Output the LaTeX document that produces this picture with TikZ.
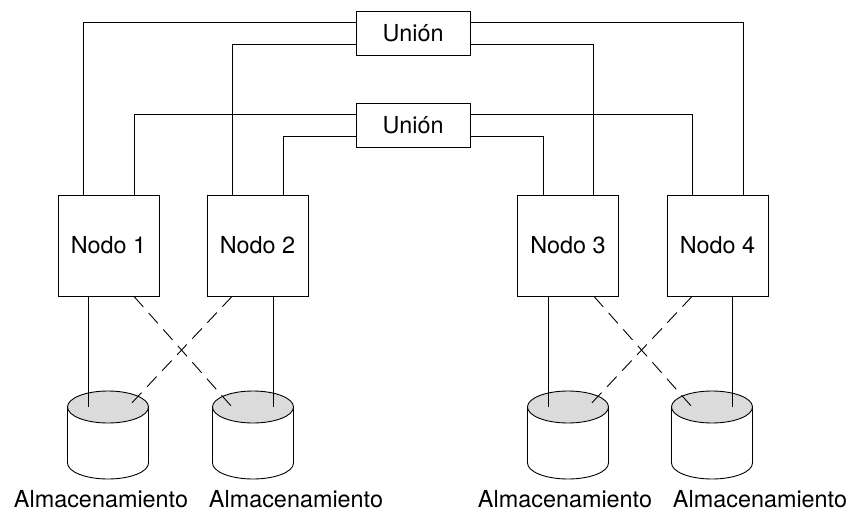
\documentclass[tikz,border=0pt]{standalone}
\usepackage{fontspec}
\setmainfont{TeX Gyre Heros}
\definecolor{diskgray}{gray}{0.86}
\begin{document}
\begin{tikzpicture}[x=1pt,y=-1pt,
  every node/.style={font=\fontsize{23.4}{28}\selectfont},
  box/.style={draw,line width=0.9pt,inner sep=0pt,text height=16.8pt,text depth=0pt},
  nodebox/.style={box,minimum width=101pt,minimum height=101pt},
  joinbox/.style={box,minimum width=114pt,minimum height=44pt},
  wire/.style={line width=0.9pt},
  backup/.style={wire,dash pattern=on 14pt off 8pt},
  caption/.style={anchor=base,inner sep=0pt}
]
\fill[white] (0,0) rectangle (853,513);
\useasboundingbox (0,0) rectangle (853,513);

% interconnect boxes
\node[joinbox] (u1) at (413,33) {Unión};
\node[joinbox] (u2) at (413,125) {Unión};

% cluster nodes
\node[nodebox] (n1) at (108.5,245.5) {Nodo 1};
\node[nodebox] (n2) at (257.5,245.5) {Nodo 2};
\node[nodebox] (n3) at (568,245.5) {Nodo 3};
\node[nodebox] (n4) at (717.5,245.5) {Nodo 4};

% links from the interconnects to every node
\draw[wire] ([yshift=11pt]u1.west) -| ([xshift=-25.5pt]n1.north);
\draw[wire] ([yshift=-11pt]u1.west) -| ([xshift=-25.5pt]n2.north);
\draw[wire] ([yshift=11pt]u1.east) -| ([xshift=25.5pt]n4.north);
\draw[wire] ([yshift=-11pt]u1.east) -| ([xshift=25pt]n3.north);
\draw[wire] ([yshift=11pt]u2.west) -| ([xshift=25.5pt]n1.north);
\draw[wire] ([yshift=-11pt]u2.west) -| ([xshift=25.5pt]n2.north);
\draw[wire] ([yshift=11pt]u2.east) -| ([xshift=-25.5pt]n4.north);
\draw[wire] ([yshift=-11pt]u2.east) -| ([xshift=-25pt]n3.north);

% storage disks (top centre of each cylinder)
\coordinate (d1) at (108,407);
\coordinate (d2) at (253,407);
\coordinate (d3) at (568,407);
\coordinate (d4) at (712,407);
\foreach \d in {d1,d2,d3,d4}{
  \draw[wire,fill=white] ([xshift=-40.5pt]\d) -- ++(0,56)
    arc[start angle=180,end angle=360,x radius=40.5pt,y radius=16pt]
    -- ([xshift=40.5pt]\d) -- cycle;
  \draw[wire,fill=diskgray] (\d) ellipse[x radius=40.5pt,y radius=16pt];
}

% primary storage paths
\draw[wire] ([xshift=-20.5pt]n1.south) -- ([xshift=-20pt]d1);
\draw[wire] ([xshift=15.5pt]n2.south) -- ([xshift=20pt]d2);
\draw[wire] ([xshift=-20pt]n3.south) -- ([xshift=-20pt]d3);
\draw[wire] ([xshift=14.5pt]n4.south) -- ([xshift=20pt]d4);

% backup storage paths
\draw[backup] ([xshift=25.5pt]n1.south) -- ([xshift=-21pt]d2);
\draw[backup] ([xshift=-25.5pt]n2.south) -- ([xshift=20pt]d1);
\draw[backup] ([xshift=26pt]n3.south) -- ([xshift=-20pt]d4);
\draw[backup] ([xshift=-25.5pt]n4.south) -- ([xshift=20pt]d3);

% disk captions
\node[caption] (l1) at (101,507) {Almacenamiento};
\node[caption] (l2) at (296,507) {Almacenamiento};
\node[caption] (l3) at (565,507) {Almacenamiento};
\node[caption] (l4) at (760,507) {Almacenamiento};
\end{tikzpicture}
\end{document}
